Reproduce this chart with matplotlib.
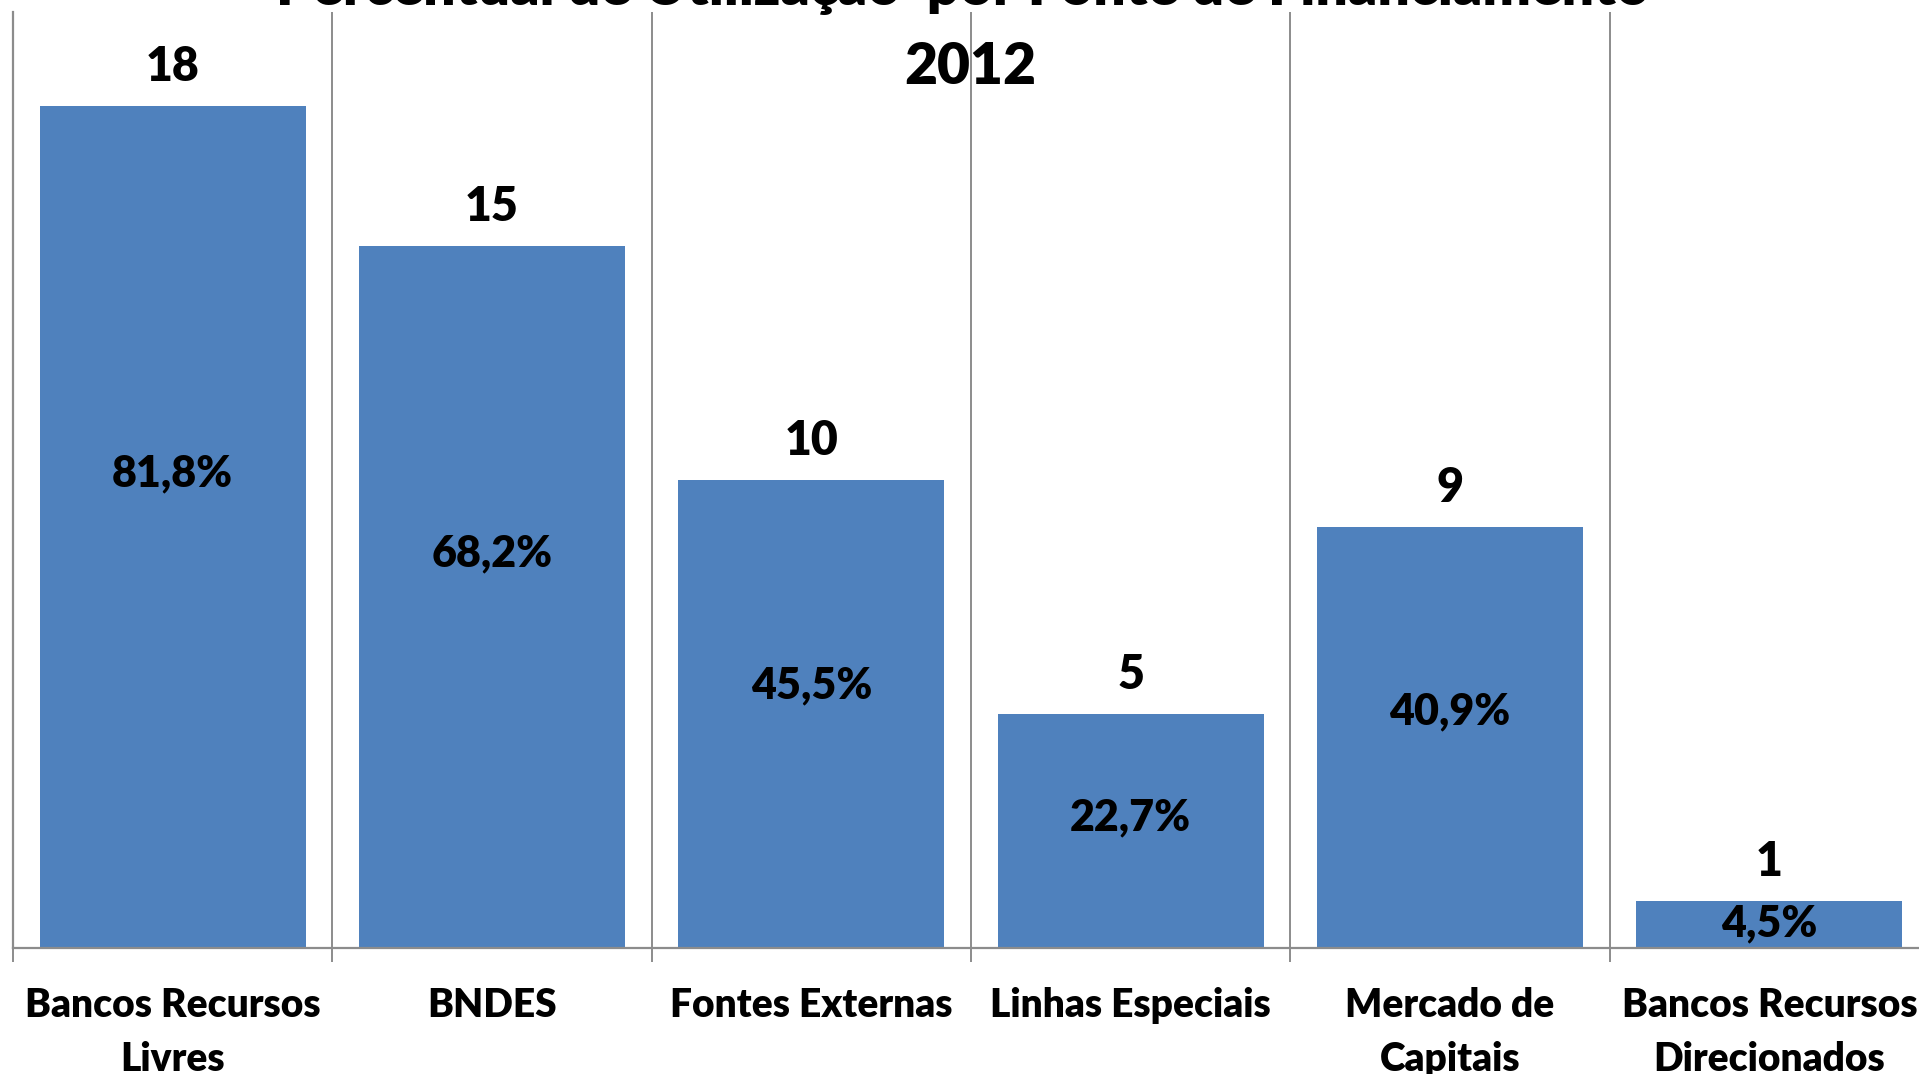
import numpy as np
import matplotlib
matplotlib.use('Agg')
import matplotlib.pyplot as plt

# dados
fontes = ['Bancos Recursos\nLivres', 'BNDES', 'Fontes Externas',
          'Linhas Especiais', 'Mercado de\nCapitais', 'Bancos Recursos\nDirecionados']
empresas = [18, 15, 10, 5, 9, 1]
percentuais = ['81,8%', '68,2%', '45,5%', '22,7%', '40,9%', '4,5%']

plt.rcParams['font.family'] = ['Lato', 'DejaVu Sans']
peso = 'heavy'

azul = '#4F81BD'
cinza = '#8C8C8C'

W, H = 1919, 1074
fig = plt.figure(figsize=(W / 100, H / 100), dpi=100)
ax = fig.add_axes([13 / W, 126.3 / H, 1916 / W, 935.7 / H])

x = np.arange(len(fontes))
ax.bar(x, empresas, width=0.833, color=azul, zorder=3)
ax.set_xlim(-0.5, len(fontes) - 0.5)
ax.set_ylim(0, 20)

# rotulos: quantidade acima, percentual dentro da barra
for i, v in enumerate(empresas):
    ax.annotate(str(v), (i, v), xytext=(0, 18), textcoords='offset points',
                ha='center', va='baseline', fontsize=33.5, fontweight=peso)
    ax.annotate(percentuais[i], (i, v * 0.565), xytext=(0, -10.6),
                textcoords='offset points', ha='center', va='baseline',
                fontsize=31, fontweight=peso, zorder=4)

# eixos e grade entre categorias
ax.set_yticks([])
ax.set_xticks(x)
ax.set_xticklabels(fontes, fontsize=28, fontweight=peso, linespacing=1.57)
ax.set_xticks(np.arange(-0.5, len(fontes)), minor=True)
ax.tick_params(axis='x', which='major', length=0, pad=28.5)
ax.tick_params(axis='x', which='minor', length=10, width=1.4, color=cinza)
ax.grid(which='minor', axis='x', color=cinza, linewidth=1.4, zorder=1)
for lado in ['top', 'right']:
    ax.spines[lado].set_visible(False)
for lado in ['left', 'bottom']:
    ax.spines[lado].set_color(cinza)
    ax.spines[lado].set_linewidth(1.6)
    ax.spines[lado].set_zorder(5)

# titulo (primeira linha cortada no topo, como no original)
fig.text(963 / W, 1 - 5 / H, 'Percentual de Utilização  por Fonte de Financiamento',
         ha='center', va='baseline', fontsize=41, fontweight=peso)
fig.text(970 / W, 1 - 84 / H, '2012', ha='center', va='baseline',
         fontsize=41, fontweight=peso)

fig.savefig('out.png', dpi=100)
